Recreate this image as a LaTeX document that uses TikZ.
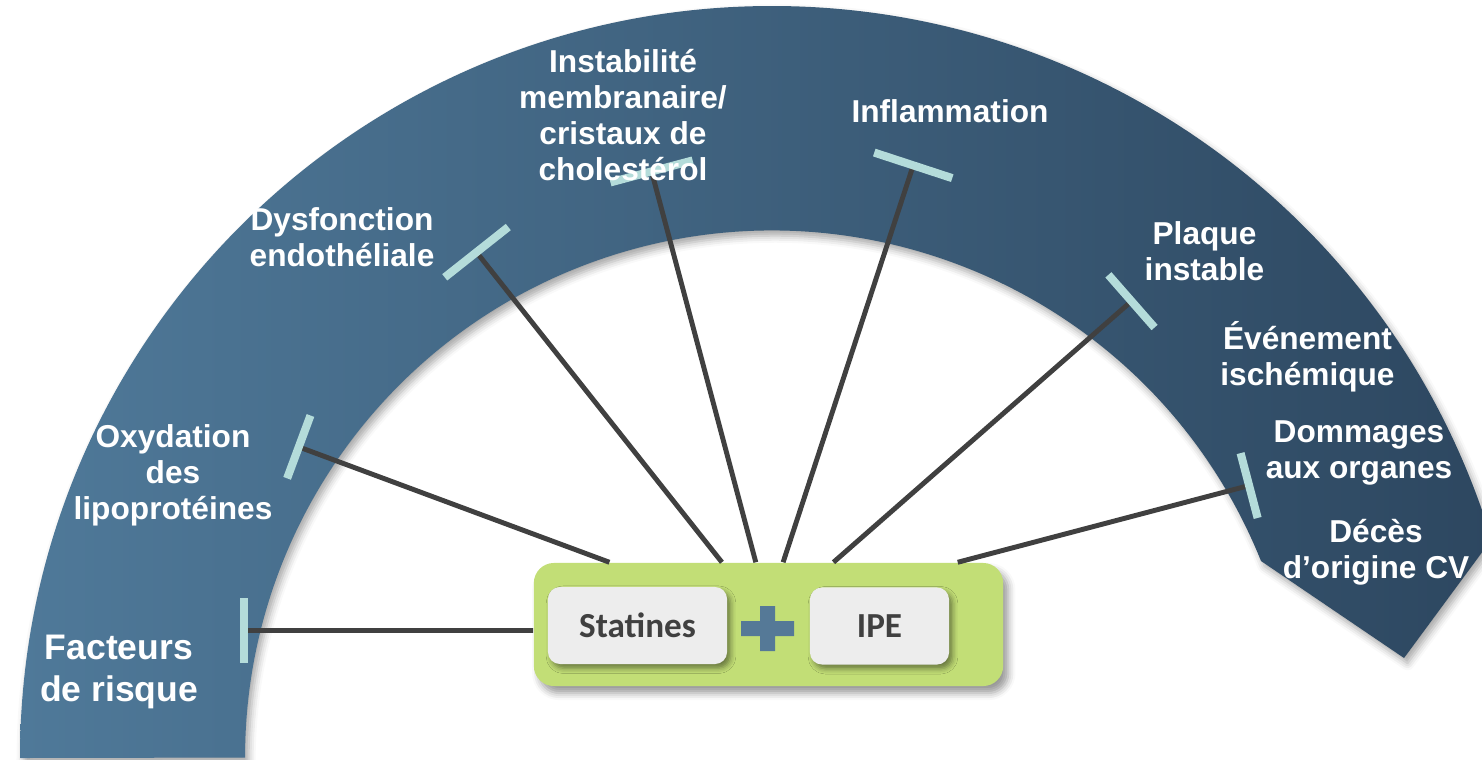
\documentclass[tikz,border=0pt]{standalone}
\usepackage{fontspec}
\setmainfont{Liberation Sans}
\newfontfamily\drugfont{Carlito}
\usetikzlibrary{arrows.meta, calc, shadows.blur}

\definecolor{bandleft}{RGB}{79,121,153}
\definecolor{bandright}{RGB}{45,71,96}
\definecolor{combogreen}{RGB}{194,222,118}
\definecolor{drugfill}{RGB}{237,237,237}
\definecolor{druggray}{RGB}{64,64,64}
\definecolor{plusblue}{RGB}{85,121,151}
\definecolor{tickblue}{RGB}{180,220,218}
\definecolor{linkgray}{RGB}{64,64,64}

\tikzset{
  stage/.style={text=white, align=center, font=\bfseries\fontsize{9}{10.24}\selectfont},
  drug/.style={rectangle, rounded corners=0.12cm, fill=drugfill, text=druggray,
    minimum height=0.77cm, inner sep=0pt,
    font=\drugfont\bfseries\fontsize{10}{12}\selectfont,
    blur shadow={shadow xshift=1pt, shadow yshift=-1.2pt, shadow blur radius=1.5pt, shadow opacity=45}},
  link/.style={draw=linkgray, line width=1.4pt, -{Bar[width=#1, line width'=2.3pt, color=tickblue]}},
  link/.default=6.7mm
}

\begin{document}
\begin{tikzpicture}[x=0.01cm, y=0.01cm]
    \useasboundingbox (0,0) rectangle (1482,759);
    \clip (0,0) rectangle (1482,759);

    % the curved band, centre (772,1)
    \path[left color=bandleft, right color=bandright,
          blur shadow={shadow xshift=1pt, shadow yshift=-1.5pt, shadow blur radius=2pt, shadow opacity=35}]
      (20,1) arc[start angle=180, end angle=16.9, radius=752]
      -- (1404,101) -- (1261,198)
      arc[start angle=21.9, end angle=180, radius=527] -- cycle;

    % ends of the links on the band
    \coordinate (t1) at (295,313.5);
    \coordinate (t2) at (474,510);
    \coordinate (t3) at (650.5,591.5);
    \coordinate (t4) at (914.5,597.5);
    \coordinate (t5) at (1134.5,460.5);
    \coordinate (t6) at (1253,274.5);
    \coordinate (t7) at (240,128.5);

    \node[rectangle, rounded corners=0.2cm, fill=combogreen, minimum width=4.69cm, minimum height=1.23cm,
          inner sep=0pt, blur shadow={shadow xshift=1.5pt, shadow yshift=-2pt, shadow blur radius=2pt, shadow opacity=40}]
      (combo) at (768.5,134.5) {};

    \draw[link] ($(combo.north west)!0.162!(combo.north east)$) -- (t1);
    \draw[link=8.1mm] ($(combo.north west)!0.401!(combo.north east)$) -- (t2);
    \draw[link=8.5mm] ($(combo.north west)!0.473!(combo.north east)$) -- (t3);
    \draw[link=8.2mm] ($(combo.north west)!0.531!(combo.north east)$) -- (t4);
    \draw[link=7mm] ($(combo.north west)!0.638!(combo.north east)$) -- (t5);
    \draw[link] ($(combo.north west)!0.902!(combo.north east)$) -- (t6);
    \draw[link=6.4mm] ([yshift=-0.6mm]combo.west) -- (t7);

    \node[drug, minimum width=1.79cm] (statines) at (637.5,133.5) {Statines};
    \node[drug, minimum width=1.39cm] (ipe) at (879.5,133) {IPE};
    \fill[plusblue] (741,123) rectangle (794,138) (760,108) rectangle (775,153);

    % stages along the band
    \node[stage, font=\bfseries\fontsize{10.1}{11.95}\selectfont] (risk) at (119,87) {Facteurs\\de risque};
    \node[stage] (oxyd) at (173,283.5) {Oxydation\\des\\lipoprotéines};
    \node[stage] (endo) at (342,522) {Dysfonction\\endothéliale};
    \node[stage] (membr) at (623,643.5) {Instabilité\\membranaire/\\cristaux de\\cholestérol};
    \node[stage] (infl) at (950,648) {Inflammation};
    \node[stage] (plaque) at (1204.5,507.5) {Plaque\\instable};
    \node[stage] (ischem) at (1307.5,402.5) {Événement\\ischémique};
    \node[stage] (organ) at (1359,306) {Dommages\\aux organes};
    \node[stage] (death) at (1376,207) {Décès\\d’origine CV};
\end{tikzpicture}
\end{document}
